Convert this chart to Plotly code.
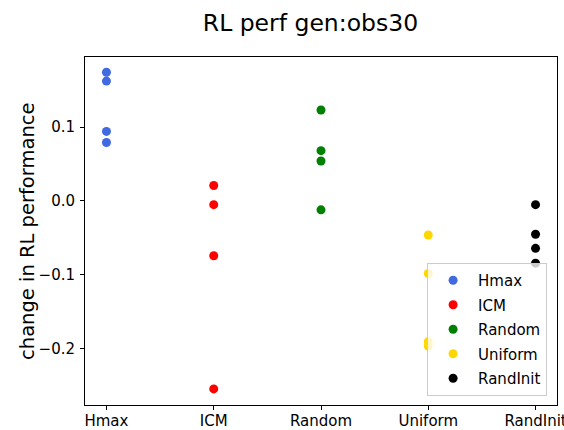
import plotly.graph_objects as go

# Change in RL performance per initialisation method
categories = ["Hmax", "ICM", "Random", "Uniform", "RandInit"]
hmax = [0.174, 0.162, 0.094, 0.079]
icm = [0.021, -0.005, -0.074, -0.254]
random_ = [0.123, 0.068, 0.054, -0.012]
uniform = [-0.046, -0.098, -0.190, -0.196]
randinit = [-0.005, -0.045, -0.064, -0.084]

series = [
    ("Hmax", hmax, "#4169E1"),
    ("ICM", icm, "#FF0000"),
    ("Random", random_, "#008000"),
    ("Uniform", uniform, "#FFD700"),
    ("RandInit", randinit, "#000000"),
]

FONT = "DejaVu Sans"

fig = go.Figure()
for cat, vals, color in series:
    fig.add_trace(go.Scatter(
        x=[cat] * len(vals),
        y=vals,
        mode="markers",
        name=cat,
        legendgroup=cat,
        marker=dict(color=color, size=9, line=dict(width=0)),
    ))

fig.update_layout(
    width=564,
    height=430,
    margin=dict(l=85, r=7, t=57, b=25),
    paper_bgcolor="white",
    plot_bgcolor="white",
    font=dict(family=FONT, color="black", size=15),
    title=dict(
        text="RL perf gen:obs30",
        x=0.5505, xanchor="center",
        y=0.947, yanchor="middle",
        font=dict(size=23.5, family=FONT, color="black"),
    ),
    legend=dict(
        x=0.979, xanchor="right",
        y=0.026, yanchor="bottom",
        bgcolor="rgba(255,255,255,0.8)",
        bordercolor="#cccccc",
        borderwidth=1,
        font=dict(size=15, family=FONT),
        itemwidth=40,
        tracegroupgap=2,
    ),
    showlegend=True,
)

# y-axis title as a rotated annotation so it sits close to the tick labels
fig.add_annotation(
    text="change in RL performance",
    xref="paper", yref="paper",
    x=-0.123, y=0.5,
    xanchor="center", yanchor="middle",
    textangle=-90,
    showarrow=False,
    font=dict(size=19.5, family=FONT, color="black"),
)

fig.update_xaxes(
    type="category",
    categoryorder="array",
    categoryarray=categories,
    range=[-0.2, 4.2],
    automargin=False,
    showline=True, linecolor="black", linewidth=1, mirror=True,
    ticks="outside", ticklen=4, tickcolor="black",
    ticklabelstandoff=-2,
    showgrid=False, zeroline=False,
    tickfont=dict(size=15, family=FONT),
)
fig.update_yaxes(
    range=[-0.2757, 0.1946],
    tickvals=[-0.2, -0.1, 0.0, 0.1],
    ticktext=["\u22120.2", "\u22120.1", "0.0", "0.1"],
    automargin=False,
    showline=True, linecolor="black", linewidth=1, mirror=True,
    ticks="outside", ticklen=4, tickcolor="black",
    ticklabelstandoff=2,
    showgrid=False, zeroline=False,
    tickfont=dict(size=15, family=FONT),
)

fig.write_html("out.html")
